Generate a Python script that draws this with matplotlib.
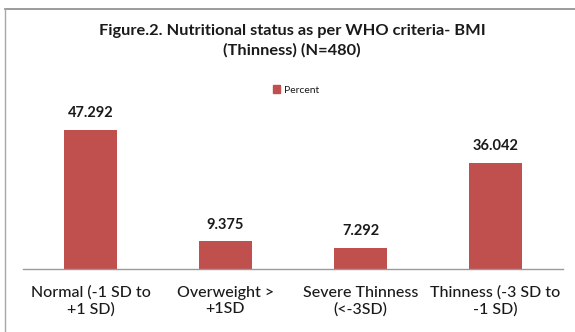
import matplotlib.pyplot as plt
from matplotlib.lines import Line2D
from matplotlib.patches import Patch

categories = ['Normal (-1 SD to\n+1 SD)', 'Overweight >\n+1SD',
              'Severe Thinness\n(<-3SD)', 'Thinness (-3 SD to\n-1 SD)']
percent = [47.292, 9.375, 7.292, 36.042]
value_labels = ['47.292', '9.375', '7.292', '36.042']

bar_color = '#C0504D'
text_color = '#1a1a1a'
plt.rcParams['font.family'] = ['Lato', 'DejaVu Sans']

fig = plt.figure(figsize=(5.75, 3.32), dpi=100)
ax = fig.add_axes([23 / 575, 63 / 332, 540 / 575, 147 / 332])

x = range(len(categories))
bars = ax.bar(x, percent, width=0.39, color=bar_color)
ax.set_xlim(-0.5, len(categories) - 0.5)
ax.set_ylim(0, 50)

for b, lab in zip(bars, value_labels):
    ax.annotate(lab, (b.get_x() + b.get_width() / 2, b.get_height()),
                xytext=(0, 7), textcoords='offset points',
                ha='center', va='bottom', fontsize=10.5, fontweight='bold',
                color=text_color, clip_on=False)

ax.set_xticks(list(x))
ax.set_xticklabels(categories, fontsize=11.5, color=text_color,
                   fontweight='medium', linespacing=1.2)
ax.tick_params(axis='x', length=0, pad=12)
ax.set_yticks([])
for s in ['left', 'right', 'top']:
    ax.spines[s].set_visible(False)
ax.spines['bottom'].set_color('#9a9a9a')
ax.spines['bottom'].set_linewidth(1.0)

fig.text(292 / 575, 1 - 31 / 332, 'Figure.2. Nutritional status as per WHO criteria- BMI',
         ha='center', va='center', fontsize=11.8, fontweight='bold', color=text_color)
fig.text(292 / 575, 1 - 50 / 332, '(Thinness) (N=480)',
         ha='center', va='center', fontsize=11.8, fontweight='bold', color=text_color)

fig.legend(handles=[Patch(color=bar_color, label='Percent')],
           loc='center', bbox_to_anchor=(296 / 575, 1 - 90 / 332),
           frameon=False, fontsize=7.5, handlelength=0.7, handleheight=0.7,
           handletextpad=0.3, labelcolor=text_color)

# outer chart frame: top and left edges
fig.add_artist(Line2D([5 / 575, 1], [1 - 9 / 332, 1 - 9 / 332],
                      transform=fig.transFigure, color='#8a8a8a', lw=1.2))
fig.add_artist(Line2D([5 / 575, 5 / 575], [0, 1 - 9 / 332],
                      transform=fig.transFigure, color='#a8a8a8', lw=1.0))

fig.savefig('out.png', dpi=100)
